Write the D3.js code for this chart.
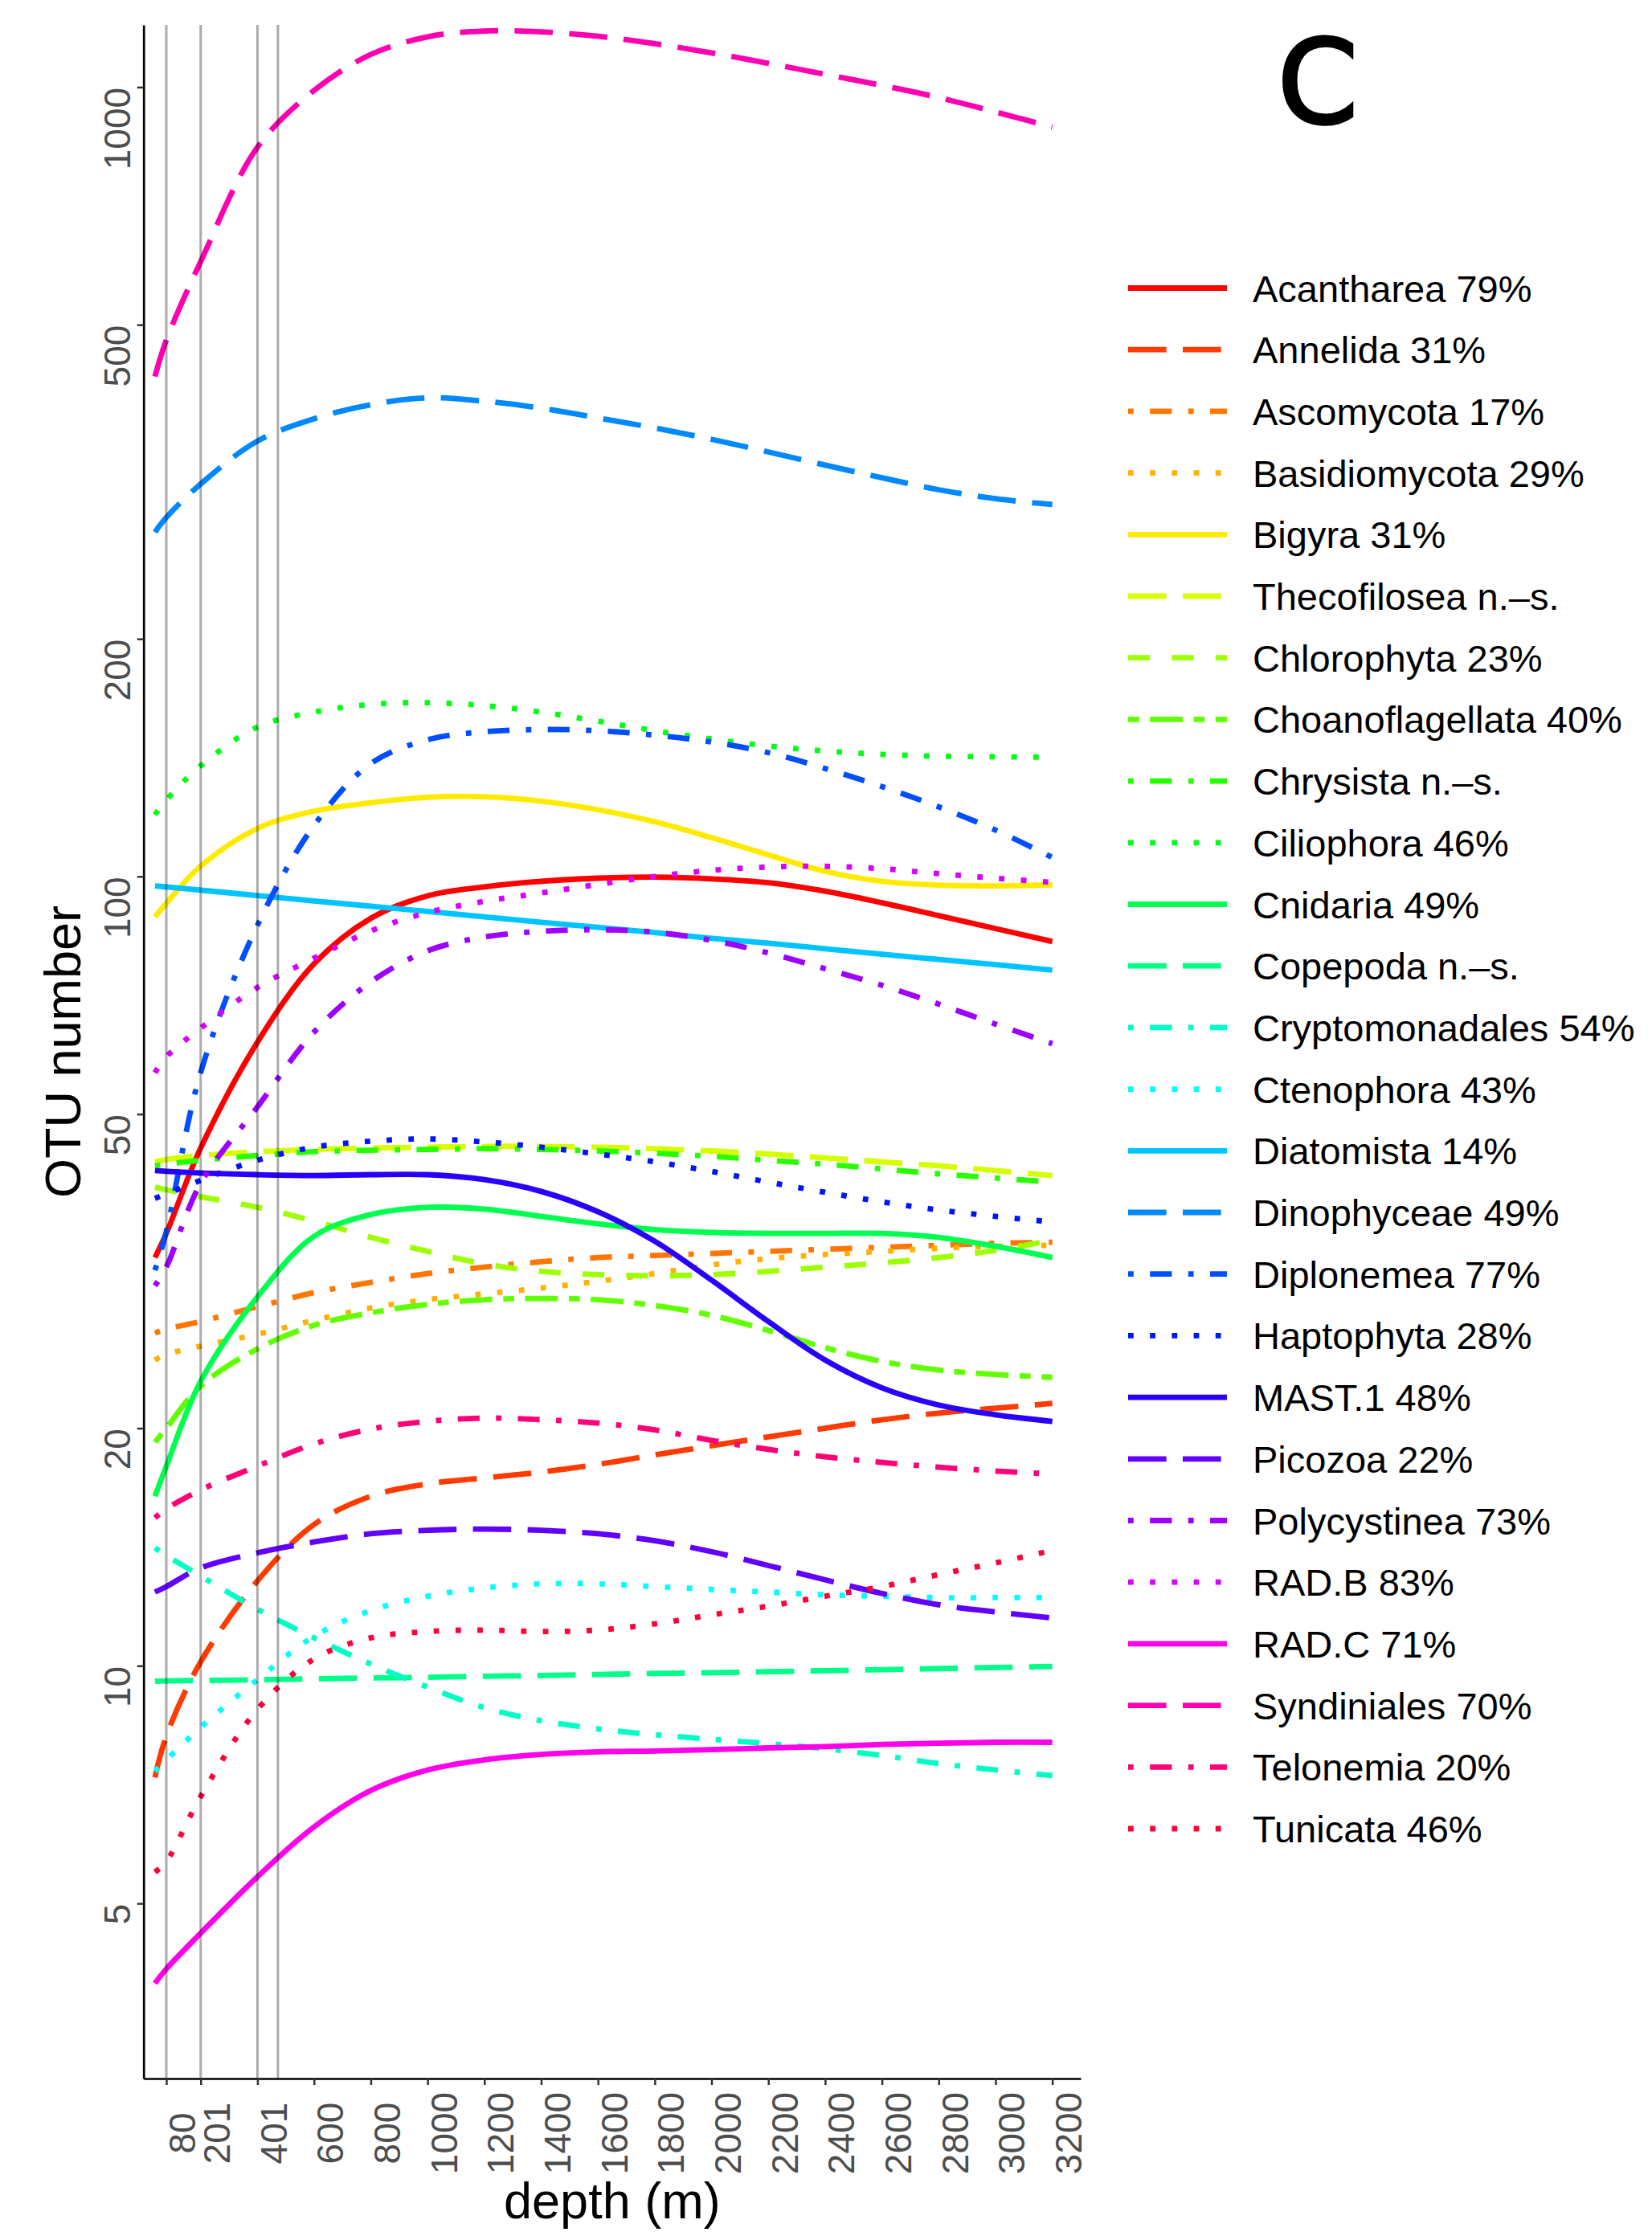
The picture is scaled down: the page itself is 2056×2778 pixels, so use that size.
<!DOCTYPE html>
<html><head><meta charset="utf-8">
<script src="https://cdn.jsdelivr.net/npm/d3@7"></script>
<style>body{margin:0;background:#fff}svg{display:block}</style>
</head><body>
<svg id="chart" width="2056" height="2778"></svg>
<script>
// ---------- data ----------
const depths = [40,80,200,400,600,800,1000,1200,1400,1600,1800,2000,2200,2400,2600,2800,3000,3200];
const Acantharea = [32.9,35.3,45.2,61.6,77.5,88.5,94.5,97,98.6,99.5,99.8,99.3,98.2,95.8,92.6,89.2,85.9,82.7];
const Annelida = [7.22,8.15,10.1,12.8,15.1,16.4,17.0,17.3,17.6,18.0,18.5,19.0,19.5,20.0,20.5,20.9,21.2,21.5];
const Ascomycota = [26.4,26.7,27.3,28.5,29.7,30.6,31.4,32.0,32.5,32.9,33.1,33.3,33.5,33.7,33.9,34.1,34.3,34.4];
const Basidiomycota = [24.4,24.8,25.4,26.3,27.4,28.4,29.1,29.6,30.1,30.7,31.4,32.2,32.8,33.2,33.5,33.8,34.0,34.1];
const Bigyra = [88.9,92.5,103,115,121,124,126,126.2,124.6,121.5,117.3,112,106.5,101.5,98.6,97.5,97.3,97.6];
const Thecofilosea = [43.5,43.8,44.3,44.8,45.1,45.3,45.4,45.5,45.5,45.4,45.2,44.9,44.5,44.0,43.5,43.0,42.4,41.8];
const Chlorophyta = [40.4,40.1,39.3,38.1,36.6,34.9,33.5,32.3,31.6,31.3,31.2,31.3,31.6,32.0,32.4,32.9,33.6,34.6];
const Choanoflagellata = [19.2,20.0,22.6,25.2,27.0,28.0,28.7,29.1,29.2,29.1,28.6,27.8,26.6,25.3,24.3,23.7,23.4,23.2];
const Chrysista = [43.0,43.2,43.7,44.3,44.8,45.0,45.1,45.2,45.1,44.9,44.6,44.2,43.7,43.2,42.6,42.0,41.5,41.0];
const Ciliophora = [119.7,125,138,154.6,161.5,165.2,166,164.6,161.5,157.3,153,149.3,146.3,144.2,142.8,142,141.8,141.6];
const Cnidaria = [16.4,17.9,22.9,29.3,35.0,37.3,38.1,37.9,37.1,36.3,35.7,35.4,35.3,35.3,35.3,34.9,34.0,32.9];
const Copepoda = [9.56,9.57,9.58,9.6,9.63,9.65,9.67,9.7,9.72,9.75,9.78,9.8,9.83,9.86,9.89,9.92,9.95,9.98];
const Cryptomonadales = [14.1,13.8,13.0,11.8,10.85,10.05,9.4,8.85,8.52,8.32,8.18,8.07,7.97,7.85,7.7,7.52,7.38,7.26];
const Ctenophora = [7.35,7.6,8.35,9.6,10.9,11.75,12.25,12.55,12.7,12.7,12.6,12.5,12.4,12.3,12.25,12.2,12.2,12.2];
const Diatomista = [97.3,97.0,96.1,94.6,93.1,91.7,90.3,88.9,87.5,86.2,84.9,83.5,82.3,81.0,79.7,78.5,77.3,76.1];
const Dinophyceae = [273,285,314,356,380,396,404,400,392,381,370,358,345,332,320,309,301,296];
const Diplonemea = [31.7,35.5,56.3,86.6,116,139,149,152.5,153.5,153,151,148,143.5,137,130,122.5,114.5,105.7];
const Haptophyta = [39.1,39.6,41.2,43.7,45.4,46.2,46.5,46.1,45.4,44.5,43.5,42.3,41.0,39.8,38.7,37.8,37.1,36.5];
const MAST1 = [42.4,42.3,42.1,41.9,41.8,41.9,41.9,41.3,39.9,37.6,34.5,30.8,27.3,24.4,22.5,21.4,20.8,20.4];
const Picozoa = [12.4,12.6,13.3,13.9,14.35,14.7,14.85,14.9,14.85,14.7,14.4,13.95,13.4,12.85,12.35,11.95,11.7,11.5];
const Polycystinea = [30.3,32,40.8,51,63.5,73.5,80.5,83.8,85.2,85.6,85,83,80,76.4,72.8,68.9,65,61.4];
const RADB = [56.4,59.1,64.2,72.3,78.8,85.3,90,93,95.3,97.7,100,101.8,102.8,103,102.3,100.8,99.5,98.3];
const RADC = [3.96,4.13,4.58,5.4,6.25,6.95,7.38,7.6,7.72,7.78,7.8,7.83,7.87,7.9,7.95,7.98,8.0,8.0];
const Syndiniales = [430,478,600,838,990,1100,1158,1178,1175,1160,1135,1105,1072,1038,1005,970,930,890];
const Telonemia = [15.4,15.8,16.7,17.9,19.1,19.95,20.4,20.6,20.5,20.3,19.9,19.3,18.8,18.4,18.1,17.85,17.65,17.5];
const Tunicata = [5.48,5.65,6.82,8.8,10.2,10.85,11.05,11.1,11.05,11.1,11.3,11.6,11.9,12.25,12.6,13.05,13.5,14.0];

const taxa = ["Acantharea 79%","Annelida 31%","Ascomycota 17%","Basidiomycota 29%","Bigyra 31%",
  "Thecofilosea n.–s.","Chlorophyta 23%","Choanoflagellata 40%","Chrysista n.–s.","Ciliophora 46%",
  "Cnidaria 49%","Copepoda n.–s.","Cryptomonadales 54%","Ctenophora 43%","Diatomista 14%",
  "Dinophyceae 49%","Diplonemea 77%","Haptophyta 28%","MAST.1 48%","Picozoa 22%",
  "Polycystinea 73%","RAD.B 83%","RAD.C 71%","Syndiniales 70%","Telonemia 20%","Tunicata 46%"];
const taxonValues = [Acantharea,Annelida,Ascomycota,Basidiomycota,Bigyra,Thecofilosea,Chlorophyta,
  Choanoflagellata,Chrysista,Ciliophora,Cnidaria,Copepoda,Cryptomonadales,Ctenophora,Diatomista,
  Dinophyceae,Diplonemea,Haptophyta,MAST1,Picozoa,Polycystinea,RADB,RADC,Syndiniales,Telonemia,Tunicata];
const samplingDepths = [80,201,401,473];
const xTickValues = [80,201,401,600,800,1000,1200,1400,1600,1800,2000,2200,2400,2600,2800,3000,3200];
const yTickValues = [5,10,20,50,100,200,500,1000];

// ---------- styles ----------
const colors = ["#FF0000","#FF3B00","#FF7600","#FFB100","#FFEB00","#D8FF00","#9DFF00","#62FF00","#27FF00",
  "#00FF14","#00FF4E","#00FF89","#00FFC4","#00FFFF","#00C4FF","#0089FF","#004EFF","#0014FF","#2700FF",
  "#6200FF","#9D00FF","#D800FF","#FF00EB","#FF00B1","#FF0076","#FF003B"];
const ltypes = ["solid","longdash","dotdash","dotted","solid","longdash","dashed","twodash","dotdash","dotted",
  "solid","longdash","dotdash","dotted","solid","longdash","dotdash","dotted","solid","longdash",
  "dotdash","dotted","solid","longdash","dotdash","dotted"];
const u = 6.8;
const dashMap = {
  solid: null,
  longdash: [7,3].map(v=>v*u).join(","),
  dotdash: [1,3,4,3].map(v=>v*u).join(","),
  dotted: [1,3].map(v=>v*u).join(","),
  dashed: [4,4].map(v=>v*u).join(","),
  twodash: [2,2,6,2].map(v=>v*u).join(",")
};

// ---------- layout ----------
const pLeft = 178.7, pRight = 1345, pTop = 31, pBottom = 2587;
const svg = d3.select("#chart");
svg.append("rect").attr("width",2056).attr("height",2778).attr("fill","#fff");

const x = d3.scaleLinear().domain([0,3300]).range([pLeft,pRight]);
const y = d3.scaleLog().domain([3.0,1199]).range([pBottom,pTop]);

const series = taxa.map((name,i)=>({name, color:colors[i], lt:ltypes[i],
  values: depths.map((d,j)=>({d, v:taxonValues[i][j]}))}));

const line = d3.line().x(p=>x(p.d)).y(p=>y(p.v)).curve(d3.curveCatmullRom.alpha(0.5));

const gLines = svg.append("g");
series.forEach(s=>{
  gLines.append("path").attr("d", line(s.values))
    .attr("fill","none").attr("stroke", s.color).attr("stroke-width", u)
    .attr("stroke-linecap","butt").attr("stroke-linejoin","round")
    .attr("stroke-dasharray", dashMap[s.lt]);
});

// sampling depth lines (on top, semi transparent)
svg.append("g").selectAll("line").data(samplingDepths).join("line")
  .attr("x1", d=>x(d)).attr("x2", d=>x(d)).attr("y1", pTop).attr("y2", pBottom)
  .attr("stroke","#000").attr("stroke-opacity",0.33).attr("stroke-width",3);

// axes
const fontMain = "'Liberation Sans', Arial, Helvetica, sans-serif";
const yAxis = svg.append("g").attr("transform",`translate(${pLeft},0)`)
  .call(d3.axisLeft(y).tickValues(yTickValues).tickSize(8).tickSizeOuter(0).tickFormat(d3.format("d")));
const xAxis = svg.append("g").attr("transform",`translate(0,${pBottom})`)
  .call(d3.axisBottom(x).tickValues(xTickValues).tickSize(8).tickSizeOuter(0).tickFormat(d3.format("d")));

[yAxis,xAxis].forEach(a=>{
  a.select(".domain").attr("stroke","#000").attr("stroke-width",2.7);
  a.selectAll(".tick line").attr("stroke","#333").attr("stroke-width",2.5);
  a.selectAll(".tick text").attr("fill","#4D4D4D").attr("font-family",fontMain).attr("font-size",46)
    .attr("x",0).attr("y",0).attr("dy",null);
});
yAxis.selectAll(".tick text").attr("text-anchor","end").attr("transform","translate(-17,0) rotate(-90)");
xAxis.selectAll(".tick text").attr("text-anchor","middle").attr("transform","translate(36,68) rotate(-90)");

// axis titles
svg.append("text").attr("transform",`translate(100,${(pTop+pBottom)/2}) rotate(-90)`)
  .attr("text-anchor","middle").attr("font-family",fontMain).attr("font-size",63).attr("fill","#000")
  .text("OTU number");
svg.append("text").attr("x",(pLeft+pRight)/2).attr("y",2761)
  .attr("text-anchor","middle").attr("font-family",fontMain).attr("font-size",63).attr("fill","#000")
  .text("depth (m)");

// panel tag
svg.append("text").attr("x",1640).attr("y",153).attr("text-anchor","middle")
  .attr("font-family","'DejaVu Sans', sans-serif").attr("font-weight","normal")
  .attr("font-size",144).attr("fill","#000").attr("stroke","#000").attr("stroke-width",3.5)
  .text("C");

// legend
const legend = svg.append("g");
const rowY = i => 358.5 + i*76.7;
series.forEach((s,i)=>{
  const g = legend.append("g").attr("transform",`translate(0,${rowY(i)})`);
  g.append("line").attr("x1",1404).attr("x2",1527).attr("y1",0).attr("y2",0)
    .attr("stroke",s.color).attr("stroke-width",u).attr("stroke-linecap","butt")
    .attr("stroke-dasharray",dashMap[s.lt]);
  g.append("text").attr("x",1559).attr("y",17).attr("font-family",fontMain).attr("font-size",47)
    .attr("fill","#000").text(s.name);
});
</script>
</body></html>
